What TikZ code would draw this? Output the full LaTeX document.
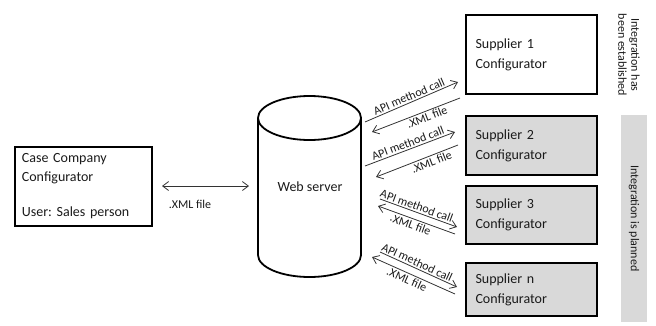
\documentclass[tikz,border=0pt]{standalone}
\usepackage{fontspec}
\setmainfont{Carlito}
\usetikzlibrary{arrows.meta}
\definecolor{boxgray}{HTML}{D9D9D9}
\definecolor{txt}{HTML}{1A1A1A}
\frenchspacing
\begin{document}
\begin{tikzpicture}[x=1pt,y=-1pt,
  box/.style={draw, line width=1.8pt, minimum width=131pt, text width=112pt, inner sep=9pt, align=left, font=\fontsize{14}{20}\selectfont, text=txt},
  gbox/.style={box, fill=boxgray},
  arr/.style={line width=0.8pt, color=black!80, -{Straight Barb[length=6pt,width=9pt]}},
  darr/.style={line width=0.8pt, color=black!80, {Straight Barb[length=6pt,width=9pt]}-{Straight Barb[length=6pt,width=9pt]}},
  lab/.style={font=\fontsize{12}{13}\selectfont, inner sep=0.5pt, text=txt},
  side/.style={font=\fontsize{12}{13}\selectfont, rotate=-90, align=center, text=txt}]
\useasboundingbox (0,0) rectangle (656,325);

% Case company box
\node[box, minimum height=74pt, text width=123pt, inner sep=7pt, anchor=north west, font=\fontsize{14}{19}\selectfont] (cc) at (14,146)
  {Case Company\\Configurator\\[16pt]User: Sales person};

% Web server cylinder
\draw[line width=1.8pt] (258,118) -- (258,255)
  arc[start angle=180, end angle=360, x radius=51.5pt, y radius=22pt] -- (361,118);
\draw[line width=1.8pt] (309.5,118) ellipse [x radius=51.5pt, y radius=22pt];
\node[font=\fontsize{14}{16}\selectfont, text=txt] (ws) at (310,187) {Web server};

% Double arrow
\coordinate (dA) at (162,186);
\coordinate (dB) at (249,186);
\draw[darr] (dA) -- (dB);
\node[lab] (xl) at (190,204) {.XML file};

% Suppliers
\node[box, minimum height=79pt] (s1) at (531.5,54.5) {Supplier 1\\Configurator};
\node[gbox, minimum height=59pt] (s2) at (531.5,145.5) {Supplier 2\\Configurator};
\node[gbox, minimum height=58pt] (s3) at (531.5,215) {Supplier 3\\Configurator};
\node[gbox, minimum height=53pt] (sn) at (531.5,289.5) {Supplier n\\Configurator};

% Arrow pairs
\coordinate (p1a) at (365,122); \coordinate (p1b) at (458,82);
\coordinate (p1c) at (460,98);  \coordinate (p1d) at (372,132);
\draw[arr] (p1a) -- node[sloped, above=1pt, lab] {API method call} (p1b);
\draw[arr] (p1c) -- node[sloped, below=1pt, lab, pos=0.4] {.XML file} (p1d);

\coordinate (p2a) at (365,166); \coordinate (p2b) at (455,132);
\coordinate (p2c) at (458,145); \coordinate (p2d) at (376,177);
\draw[arr] (p2a) -- node[sloped, above=1pt, lab] {API method call} (p2b);
\draw[arr] (p2c) -- node[sloped, below=1pt, lab, pos=0.35] {.XML file} (p2d);

\coordinate (p3a) at (380,199); \coordinate (p3b) at (457,227);
\coordinate (p3c) at (455,234); \coordinate (p3d) at (378,206);
\draw[arr] (p3a) -- node[sloped, above=1pt, lab, pos=0.45] {API method call} (p3b);
\draw[arr] (p3c) -- node[sloped, below=1pt, lab, pos=0.55] {.XML file} (p3d);

\coordinate (p4a) at (380,252); \coordinate (p4b) at (457,287);
\coordinate (p4c) at (455,294); \coordinate (p4d) at (372,257);
\draw[arr] (p4a) -- node[sloped, above=1pt, lab, pos=0.45] {API method call} (p4b);
\draw[arr] (p4c) -- node[sloped, below=1pt, lab, pos=0.55] {.XML file} (p4d);

% Side labels
\node[side] (est) at (629,55) {Integration has\\been established};
\node[fill=boxgray, minimum width=26pt, minimum height=207pt, inner sep=0pt] (plan) at (634,218.5) {};
\node[side] (planl) at (plan.center) {Integration is planned};
\end{tikzpicture}
\end{document}
